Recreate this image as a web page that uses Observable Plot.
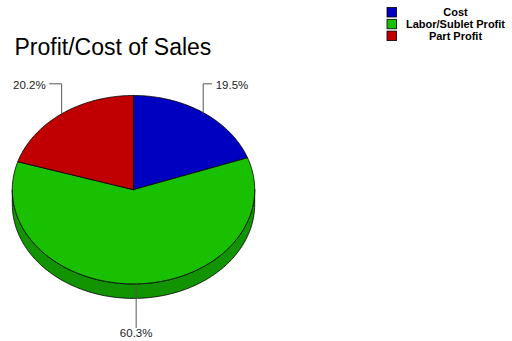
<!DOCTYPE html>
<html>
<head>
<meta charset="utf-8">
<script src="https://cdn.jsdelivr.net/npm/d3@7"></script>
<script src="https://cdn.jsdelivr.net/npm/@observablehq/plot@0.6"></script>
<style>
  html, body { margin: 0; padding: 0; background: #fff; }
  #chart svg { display: block; }
</style>
</head>
<body>
<div id="chart"></div>
<script>
// ---- data ----
const title = "Profit/Cost of Sales";
const categories = ["Cost", "Labor/Sublet Profit", "Part Profit"];
const shares = [19.5, 60.3, 20.2];
const labels = ["19.5%", "60.3%", "20.2%"];
const colors = ["#0000c0", "#18c000", "#c00000"];
const sideColors = ["#000090", "#119400", "#900000"];

// ---- layout (pixels) ----
const W = 512, H = 341;
const cx = 133, cy = 189.2, rx = 121.2, ry = 94.2, depthPx = 14.5;
const ux = px => (px - cx) / rx;
const uy = py => (cy - py) / ry;
const D = depthPx / ry;

const arcs = d3.pie().sort(null).value(d => d)(shares);
const STEP = Math.PI / 180;
function arcPts(a0, a1, dy) {
  const n = Math.max(2, Math.ceil(Math.abs(a1 - a0) / STEP));
  const pts = [];
  for (let j = 0; j <= n; j++) {
    const a = a0 + (a1 - a0) * j / n;
    pts.push([Math.sin(a), Math.cos(a) + dy]);
  }
  return pts;
}

// top slices
const topPts = [];
arcs.forEach((a, i) => {
  const pts = [[0, 0], ...arcPts(a.startAngle, a.endAngle, 0), [0, 0]];
  pts.forEach(([x, y]) => topPts.push({x, y, k: i, color: colors[i]}));
});

// visible side walls (front half)
const sidePts = [];
arcs.forEach((a, i) => {
  const s0 = Math.max(a.startAngle, Math.PI / 2);
  const s1 = Math.min(a.endAngle, 3 * Math.PI / 2);
  if (s0 < s1) {
    const pts = [...arcPts(s0, s1, 0), ...arcPts(s1, s0, -D)];
    pts.push(pts[0]);
    pts.forEach(([x, y]) => sidePts.push({x, y, k: i, color: sideColors[i]}));
  }
});

// leader lines and labels
const leadPts = [], labelData = [];
const yTopLine = uy(83.3), yTopText = uy(84.6);
const yBotLine = uy(327), yBotText = uy(333);
arcs.forEach((a, i) => {
  const m = (a.startAngle + a.endAngle) / 2;
  const sx = Math.sin(m), sy = Math.cos(m);
  if (sy > 0) {
    const right = sx >= 0;
    const h = (right ? 8.5 : 12) / rx, gap = 4 / rx;
    const dir = right ? 1 : -1;
    [[sx, sy], [sx, yTopLine], [sx + dir * h, yTopLine]].forEach(([x, y]) => leadPts.push({x, y, k: i}));
    labelData.push({x: sx + dir * (h + gap), y: yTopText, text: labels[i], anchor: right ? "start" : "end"});
  } else {
    [[sx, sy], [sx, yBotLine]].forEach(([x, y]) => leadPts.push({x, y, k: i}));
    labelData.push({x: sx, y: yBotText, text: labels[i], anchor: "middle"});
  }
});

// legend
const legend = categories.map((c, i) => ({
  name: c, color: colors[i],
  x1: ux(387), x2: ux(396.5),
  y1: uy(7.5 + i * 11.8), y2: uy(17 + i * 11.8),
  tx: ux(455), ty: uy(12.3 + i * 11.8)
}));

const font = "'Liberation Sans', Arial, Helvetica, sans-serif";
const chart = Plot.plot({
  width: W, height: H, margin: 0,
  x: {domain: [ux(0), ux(W)], range: [0, W], axis: null},
  y: {domain: [uy(H), uy(0)], range: [H, 0], axis: null},
  color: {type: "identity"},
  style: {fontFamily: font, background: "#fff"},
  marks: [
    Plot.line(sidePts, {x: "x", y: "y", z: "k", fill: "color", stroke: "#000", strokeWidth: 0.8, curve: "linear"}),
    Plot.line(topPts, {x: "x", y: "y", z: "k", fill: "color", stroke: "#000", strokeWidth: 0.8, curve: "linear", strokeLinejoin: "round"}),
    Plot.line(leadPts, {x: "x", y: "y", z: "k", stroke: "#555", strokeWidth: 1, curve: "linear"}),
    Plot.text(labelData.filter(d => d.anchor === "start"), {x: "x", y: "y", text: "text", textAnchor: "start", fontSize: 11.5, fill: "#222"}),
    Plot.text(labelData.filter(d => d.anchor === "end"), {x: "x", y: "y", text: "text", textAnchor: "end", fontSize: 11.5, fill: "#222"}),
    Plot.text(labelData.filter(d => d.anchor === "middle"), {x: "x", y: "y", text: "text", textAnchor: "middle", fontSize: 11.5, fill: "#222"}),
    Plot.text([title], {x: ux(14), y: uy(47), text: d => d, textAnchor: "start", fontSize: 23, fill: "#000"}),
    Plot.rect(legend, {x1: "x1", x2: "x2", y1: "y1", y2: "y2", fill: "color", stroke: "#000", strokeWidth: 0.8}),
    Plot.text(legend, {x: "tx", y: "ty", text: "name", textAnchor: "middle", fontSize: 11, fontWeight: "bold", fill: "#000"})
  ]
});
document.getElementById("chart").appendChild(chart);
</script>
</body>
</html>
